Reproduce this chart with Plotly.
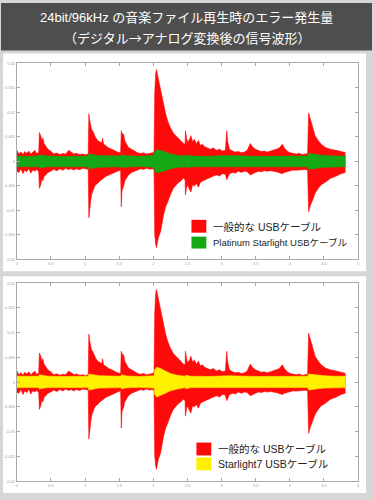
import plotly.graph_objects as go

W, H = 374, 500

# ---------------- data ----------------
title_line1 = "24bit/96kHz の音楽ファイル再生時のエラー発生量"
title_line2 = "（デジタル→アナログ変換後の信号波形）"

legend_top = ["一般的な USBケーブル", "Platinum Starlight USBケーブル"]
legend_bottom = ["一般的な USBケーブル", "Starlight7 USBケーブル"]

x_tick_vals = [0, 1, 2, 3, 4, 5, 6, 7, 8, 9, 10]
x_tick_text = ["0", "0.5", "1", "1.5", "2", "2.5", "3", "3.5", "4", "4.5", "5"]
y_tick_vals = [-4, -3, -2, -1, 0, 1, 2, 3, 4]
y_tick_text = ["-0.02", "-0.015", "-0.01", "-0.005", "0", "0.005", "0.01", "0.015", "0.02"]

# red (ordinary USB cable) envelope
red_x = [0.00, 0.06, 0.12, 0.18, 0.23, 0.29, 0.35, 0.41, 0.47, 0.53, 0.58, 0.64,
         0.66, 0.70, 0.73, 0.76, 0.80, 0.85, 0.91, 0.99, 1.08, 1.17, 1.26, 1.35,
         1.43, 1.52, 1.58, 1.67, 1.75, 1.84, 1.93, 2.02, 2.09,
         2.11, 2.13, 2.16, 2.19, 2.22, 2.27, 2.31, 2.37, 2.43, 2.49, 2.51, 2.54,
         2.60, 2.69, 2.78, 2.87, 2.95, 3.04,
         3.06, 3.08, 3.13, 3.16, 3.20, 3.27, 3.36, 3.45, 3.54, 3.63, 3.71, 3.80,
         3.89, 3.98, 4.02,
         4.04, 4.07, 4.09, 4.12, 4.15, 4.21, 4.27, 4.30, 4.36, 4.42, 4.50, 4.59,
         4.71, 4.80, 4.88, 4.93,
         4.94, 4.97, 5.00, 5.06, 5.10, 5.15, 5.20, 5.26, 5.32, 5.38, 5.44, 5.50,
         5.58, 5.67, 5.76, 5.85, 5.94, 6.02, 6.11,
         6.15, 6.18, 6.23, 6.32, 6.40, 6.49, 6.58, 6.67, 6.75, 6.84, 6.90, 6.99,
         7.08, 7.16, 7.25, 7.34, 7.43, 7.51, 7.60, 7.69, 7.78, 7.84, 7.92, 8.01,
         8.10, 8.19, 8.27, 8.36, 8.45, 8.52,
         8.55, 8.60, 8.64, 8.68, 8.74, 8.83, 8.92, 9.04, 9.18, 9.36, 9.50, 9.62]
red_up = [0.45, 0.30, 0.38, 0.28, 0.40, 0.33, 0.42, 0.30, 0.38, 0.44, 0.32, 0.36,
          1.18, 1.05, 0.85, 0.95, 0.72, 0.62, 0.50, 0.42, 0.30, 0.34, 0.28, 0.32,
          0.30, 0.45, 0.40, 0.30, 0.33, 0.28, 0.30, 0.27, 0.30,
          1.94, 1.70, 1.45, 1.30, 1.25, 1.05, 0.97, 0.85, 0.80, 0.75, 0.95, 0.70,
          0.65, 0.55, 0.50, 0.42, 0.38, 0.35,
          1.25, 1.15, 1.10, 0.85, 0.75, 0.57, 0.50, 0.42, 0.35, 0.32, 0.35, 0.30,
          0.33, 0.35, 0.40,
          2.80, 3.60, 3.75, 3.55, 3.35, 2.95, 2.55, 2.25, 1.94, 1.65, 1.37, 1.15,
          0.97, 0.85, 0.73, 0.70,
          1.25, 1.00, 0.77, 0.90, 1.05, 0.80, 0.90, 0.72, 0.85, 0.65, 0.70, 0.60,
          0.55, 0.50, 0.55, 0.45, 0.50, 0.42, 0.45,
          1.25, 0.80, 0.50, 0.42, 0.38, 0.40, 0.35, 0.38, 0.45, 0.73, 0.60, 0.50,
          0.45, 0.40, 0.42, 0.38, 0.42, 0.45, 0.50, 0.55, 0.70, 0.55, 0.42, 0.35,
          0.32, 0.30, 0.33, 0.28, 0.30, 0.32,
          1.98, 1.75, 1.50, 1.33, 1.05, 0.85, 0.70, 0.57, 0.50, 0.45, 0.40, 0.36]
red_low = [-0.40, -0.45, -0.30, -0.50, -0.35, -0.42, -0.30, -0.48, -0.35, -0.40, -0.33, -0.42,
           -1.10, -0.95, -0.70, -0.80, -0.60, -0.55, -0.45, -0.40, -0.32, -0.38, -0.30, -0.36,
           -0.28, -0.34, -0.30, -0.35, -0.30, -0.34, -0.28, -0.30, -0.32,
           -2.30, -1.95, -1.66, -1.35, -1.20, -1.05, -0.95, -0.90, -0.80, -0.75, -0.72, -0.69,
           -0.62, -0.55, -0.50, -0.45, -0.40, -0.35,
           -1.85, -1.20, -1.00, -0.80, -0.69, -0.55, -0.45, -0.40, -0.35, -0.30, -0.33, -0.28,
           -0.32, -0.30, -0.35,
           -2.99, -3.40, -3.52, -3.30, -3.10, -2.87, -2.40, -2.18, -1.85, -1.66, -1.35, -1.09,
           -0.90, -0.80, -0.69, -0.75,
           -1.37, -1.10, -0.95, -1.15, -1.25, -0.95, -1.00, -0.90, -1.05, -0.85, -0.80, -0.75,
           -0.70, -0.65, -0.60, -0.55, -0.60, -0.50, -0.52,
           -0.75, -0.65, -0.50, -0.45, -0.48, -0.40, -0.45, -0.40, -0.42, -0.55, -0.50, -0.45,
           -0.40, -0.42, -0.38, -0.40, -0.38, -0.40, -0.42, -0.45, -0.50, -0.45, -0.40, -0.38,
           -0.35, -0.36, -0.34, -0.35, -0.33, -0.35,
           -2.06, -1.80, -1.65, -1.53, -1.30, -1.10, -0.95, -0.85, -0.70, -0.60, -0.50, -0.45]

# green (Platinum Starlight) envelope
green_x = [0.00, 0.30, 0.64, 0.66, 0.75, 0.90, 1.40, 2.09, 2.11, 2.20, 2.40, 3.05,
           3.07, 3.20, 3.60, 4.02, 4.04, 4.10, 4.20, 4.35, 4.50, 4.70, 4.93, 4.95,
           5.10, 5.60, 6.15, 6.20, 7.00, 7.80, 8.52, 8.55, 8.65, 8.80, 9.00, 9.30, 9.62]
green_up = [0.22, 0.20, 0.22, 0.28, 0.25, 0.22, 0.20, 0.22, 0.30, 0.28, 0.24, 0.22,
            0.27, 0.23, 0.21, 0.24, 0.40, 0.47, 0.45, 0.38, 0.30, 0.25, 0.22, 0.26,
            0.22, 0.21, 0.22, 0.24, 0.21, 0.22, 0.22, 0.32, 0.30, 0.27, 0.24, 0.22, 0.22]
green_low = [-0.22, -0.21, -0.22, -0.27, -0.25, -0.22, -0.21, -0.22, -0.30, -0.28, -0.24, -0.22,
             -0.27, -0.23, -0.21, -0.24, -0.40, -0.47, -0.45, -0.38, -0.30, -0.25, -0.22, -0.26,
             -0.22, -0.21, -0.22, -0.24, -0.21, -0.22, -0.22, -0.32, -0.30, -0.27, -0.24, -0.22, -0.22]

# yellow (Starlight7) envelope
yellow_x = [0.00, 0.30, 0.64, 0.66, 0.75, 0.90, 1.40, 2.09, 2.11, 2.20, 2.40, 3.05,
            3.07, 3.20, 3.60, 4.02, 4.04, 4.10, 4.20, 4.35, 4.50, 4.70, 4.93, 4.95,
            5.10, 5.60, 6.15, 6.20, 7.00, 7.80, 8.52, 8.55, 8.65, 8.80, 9.00, 9.30, 9.62]
yellow_up = [0.24, 0.23, 0.24, 0.30, 0.27, 0.24, 0.23, 0.24, 0.33, 0.30, 0.26, 0.24,
             0.30, 0.25, 0.23, 0.26, 0.50, 0.60, 0.56, 0.45, 0.35, 0.28, 0.24, 0.28,
             0.24, 0.23, 0.24, 0.26, 0.23, 0.24, 0.24, 0.33, 0.31, 0.28, 0.26, 0.24, 0.24]
yellow_low = [-0.22, -0.21, -0.22, -0.28, -0.25, -0.22, -0.21, -0.22, -0.32, -0.28, -0.24, -0.22,
              -0.28, -0.23, -0.21, -0.24, -0.50, -0.60, -0.56, -0.45, -0.35, -0.28, -0.22, -0.27,
              -0.22, -0.21, -0.22, -0.24, -0.21, -0.22, -0.22, -0.32, -0.30, -0.27, -0.24, -0.22, -0.22]

RED = "#ff0a0a"
GREEN = "#14a814"
YELLOW = "#fff000"
FONT = "Liberation Sans, Noto Sans CJK JP, sans-serif"
CJK = "Noto Sans CJK JP, sans-serif"


def px(x):
    return x / W


def py(y):
    return 1 - y / H


def band(xs, up, low, color, xa, ya):
    return go.Scatter(x=list(xs) + list(xs)[::-1], y=list(up) + list(low)[::-1],
                      fill="toself", fillcolor=color, mode="lines",
                      line=dict(color=color, width=0.6), xaxis=xa, yaxis=ya,
                      hoverinfo="skip", showlegend=False)


fig = go.Figure()
fig.add_trace(band(red_x, red_up, red_low, RED, "x", "y"))
fig.add_trace(band(green_x, green_up, green_low, GREEN, "x", "y"))
fig.add_trace(band(red_x, red_up, red_low, RED, "x2", "y2"))
fig.add_trace(band(yellow_x, yellow_up, yellow_low, YELLOW, "x2", "y2"))

axis_common = dict(showgrid=False, zeroline=False, showline=True, linecolor="#a8a8a8",
                   linewidth=1, mirror="ticks", ticks="inside", ticklen=3,
                   tickcolor="#a8a8a8", tickfont=dict(size=4, color="#9a9a9a", family=FONT))

xdom = [px(16), px(360)]
fig.update_layout(
    width=W, height=H, margin=dict(l=0, r=0, t=0, b=0),
    paper_bgcolor="#d6d6d6", plot_bgcolor="white", showlegend=False,
    xaxis=dict(domain=xdom, range=[0, 10], anchor="y", tickvals=x_tick_vals,
               ticktext=x_tick_text, **axis_common),
    yaxis=dict(domain=[py(259), py(61)], range=[-4, 4], anchor="x", tickvals=y_tick_vals,
               ticktext=y_tick_text, **axis_common),
    xaxis2=dict(domain=xdom, range=[0, 10], anchor="y2", tickvals=x_tick_vals,
                ticktext=x_tick_text, **axis_common),
    yaxis2=dict(domain=[py(483), py(283)], range=[-4, 4], anchor="x2", tickvals=y_tick_vals,
                ticktext=y_tick_text, **axis_common),
)

shapes = [
    dict(type="rect", xref="paper", yref="paper", x0=0, x1=1, y0=py(48), y1=1,
         fillcolor="#4e4e4e", line=dict(width=0), layer="below"),
    dict(type="rect", xref="paper", yref="paper", x0=px(2), x1=px(368), y0=py(271), y1=py(51),
         fillcolor="white", line=dict(width=0), layer="below"),
    dict(type="rect", xref="paper", yref="paper", x0=px(2), x1=px(368), y0=py(495), y1=py(276),
         fillcolor="white", line=dict(width=0), layer="below"),
    # legend swatches
    dict(type="rect", xref="paper", yref="paper", x0=px(192), x1=px(207), y0=py(232), y1=py(219),
         fillcolor=RED, line=dict(width=0)),
    dict(type="rect", xref="paper", yref="paper", x0=px(192), x1=px(207), y0=py(248), y1=py(236),
         fillcolor=GREEN, line=dict(width=0)),
    dict(type="rect", xref="paper", yref="paper", x0=px(197), x1=px(212), y0=py(457), y1=py(444),
         fillcolor=RED, line=dict(width=0)),
    dict(type="rect", xref="paper", yref="paper", x0=px(197), x1=px(212), y0=py(472), y1=py(459),
         fillcolor=YELLOW, line=dict(width=0)),
]
fig.update_layout(shapes=shapes)

ann = [
    dict(x=0.5, y=py(15), text=title_line1, font=dict(size=13, color="white", family=FONT)),
    dict(x=0.5, y=py(35), text=title_line2, font=dict(size=13, color="white", family=CJK)),
    dict(x=px(212), y=py(226), text=legend_top[0], xanchor="left",
         font=dict(size=10.5, color="#222222", family=FONT)),
    dict(x=px(212), y=py(242), text=legend_top[1], xanchor="left",
         font=dict(size=9.5, color="#222222", family=FONT)),
    dict(x=px(217), y=py(451), text=legend_bottom[0], xanchor="left",
         font=dict(size=10.5, color="#222222", family=FONT)),
    dict(x=px(217), y=py(465.5), text=legend_bottom[1], xanchor="left",
         font=dict(size=10.5, color="#222222", family=FONT)),
]
for a in ann:
    a.update(xref="paper", yref="paper", showarrow=False, yanchor="middle")
    a.setdefault("xanchor", "center")
fig.update_layout(annotations=ann)

fig.write_html("out.html", config={"displayModeBar": False, "staticPlot": True},
               post_script="document.body.style.margin='0';document.body.style.overflow='hidden';")
